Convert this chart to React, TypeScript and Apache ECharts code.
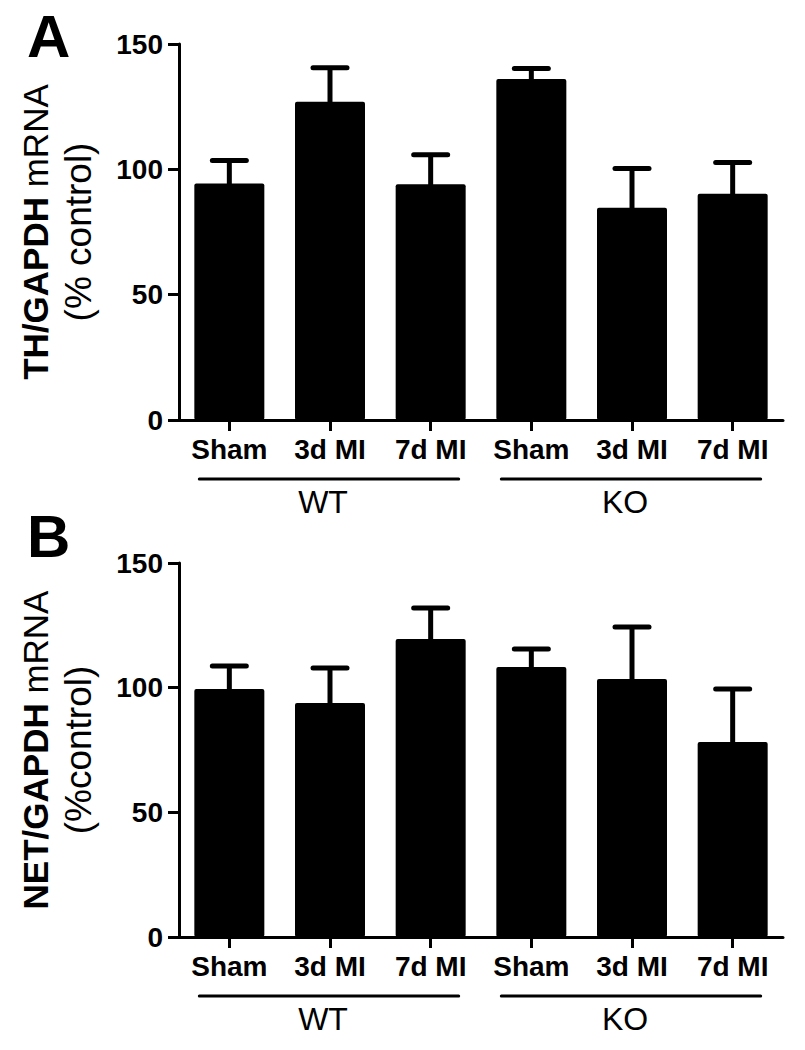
import React, { useEffect, useRef } from "react";
import * as echarts from "echarts";

const categories = ["Sham", "3d MI", "7d MI", "Sham", "3d MI", "7d MI"];
const groupNames = ["WT", "KO"];
const groupStart = [0, 3];
const groupEnd = [2, 5];
const yTicks = [0, 50, 100, 150];

const thMean = [94.3, 127, 94, 136, 84.7, 90.3];
const thErr = [9.2, 13.5, 11.8, 4.2, 15.6, 12.4];
const netMean = [99.5, 93.9, 119.5, 108.3, 103.5, 78.2];
const netErr = [9.2, 14, 12.5, 7.2, 20.8, 21.3];

const panelLetters = ["A", "B"];
const titleBold = ["TH/GAPDH", "NET/GAPDH"];
const titleSub = ["(% control)", "(%control)"];

const ARIAL = "'Liberation Sans', Arial, sans-serif";

function buildPanel(idx: number, means: number[], errs: number[]) {
  const xAxis = {
    type: "category",
    gridIndex: idx,
    data: categories,
    boundaryGap: true,
    axisLine: { show: true, lineStyle: { color: "#000", width: 3 } },
    axisTick: { show: true, alignWithLabel: true, length: 11, lineStyle: { color: "#000", width: 3 } },
    axisLabel: {
      color: "#000",
      fontSize: 28,
      fontWeight: "bold",
      fontFamily: ARIAL,
      margin: 15,
      interval: 0,
    },
  };
  const yAxis = {
    type: "value",
    gridIndex: idx,
    min: yTicks[0],
    max: yTicks[yTicks.length - 1],
    interval: yTicks[1] - yTicks[0],
    axisLine: { show: true, lineStyle: { color: "#000", width: 3 } },
    axisTick: { show: true, length: 11, lineStyle: { color: "#000", width: 3 } },
    splitLine: { show: false },
    axisLabel: { color: "#000", fontSize: 28, fontWeight: "bold", fontFamily: ARIAL, margin: 16 },
    name: `{b|${titleBold[idx]}}{r| mRNA}\n{s|${titleSub[idx]}}`,
    nameLocation: "middle",
    nameRotate: 90,
    nameGap: 79,
    nameTextStyle: {
      color: "#000",
      align: "center",
      rich: {
        b: { fontSize: 35, fontWeight: "bold", fontFamily: ARIAL, color: "#000", lineHeight: 42 },
        r: { fontSize: 35, fontFamily: ARIAL, color: "#000", lineHeight: 42 },
        s: { fontSize: 37, fontFamily: ARIAL, color: "#000", lineHeight: 44 },
      },
    },
  };
  const bar = {
    type: "bar",
    xAxisIndex: idx,
    yAxisIndex: idx,
    data: means,
    barWidth: 70,
    itemStyle: { color: "#000", borderRadius: 2 },
    silent: true,
  };
  const errSeries = {
    type: "custom",
    xAxisIndex: idx,
    yAxisIndex: idx,
    clip: false,
    data: means.map((m, i) => [i, m, errs[i]]),
    encode: { x: 0, y: 1 },
    renderItem: (params: any, api: any) => {
      const x = api.value(0);
      const m = api.value(1);
      const e = api.value(2);
      const p0 = api.coord([x, m]);
      const p1 = api.coord([x, m + e]);
      return {
        type: "group",
        children: [
          {
            type: "line",
            shape: { x1: p0[0], y1: p0[1] + 2, x2: p1[0], y2: p1[1] },
            style: { stroke: "#000", lineWidth: 5 },
          },
          {
            type: "line",
            shape: { x1: p1[0] - 17, y1: p1[1], x2: p1[0] + 17, y2: p1[1] },
            style: { stroke: "#000", lineWidth: 5, lineCap: "round" },
          },
        ],
      };
    },
  };
  const groupSeries = {
    type: "custom",
    xAxisIndex: idx,
    yAxisIndex: idx,
    clip: false,
    data: groupNames.map((g, i) => [groupStart[i], 0, groupEnd[i]]),
    encode: { x: 0, y: 1 },
    renderItem: (params: any, api: any) => {
      const c0 = api.coord([api.value(0), 0]);
      const c1 = api.coord([api.value(2), 0]);
      const y = c0[1] + 59;
      const name = groupNames[params.dataIndex];
      const x1 = c0[0] - 30;
      const x2 = c1[0] + 28;
      return {
        type: "group",
        children: [
          {
            type: "line",
            shape: { x1, y1: y, x2, y2: y },
            style: { stroke: "#000", lineWidth: 3, lineCap: "round" },
          },
          {
            type: "text",
            style: {
              text: name,
              x: (x1 + x2) / 2 - 6,
              y: y + 23,
              fill: "#000",
              fontSize: 32,
              fontFamily: ARIAL,
              align: "center",
              verticalAlign: "middle",
              textAlign: "center",
              textVerticalAlign: "middle",
            },
          },
        ],
      };
    },
  };
  return { xAxis, yAxis, series: [bar, errSeries, groupSeries] };
}

export default function App() {
  const ref = useRef<HTMLDivElement>(null);
  useEffect(() => {
    if (!ref.current) return;
    const chart = echarts.init(ref.current, null, { renderer: "svg" });
    const a = buildPanel(0, thMean, thErr);
    const b = buildPanel(1, netMean, netErr);
    chart.setOption({
      animation: false,
      backgroundColor: "#fff",
      grid: [
        { left: 179, right: 22, top: 44, height: 376 },
        { left: 179, right: 22, top: 563, height: 374 },
      ],
      xAxis: [a.xAxis, b.xAxis],
      yAxis: [a.yAxis, b.yAxis],
      series: [...a.series, ...b.series],
      graphic: [
        {
          type: "text",
          left: 27,
          top: 6,
          style: { text: panelLetters[0], fontSize: 60, fontWeight: "bold", fontFamily: ARIAL, fill: "#000" },
        },
        {
          type: "text",
          left: 27,
          top: 506,
          style: { text: panelLetters[1], fontSize: 60, fontWeight: "bold", fontFamily: ARIAL, fill: "#000" },
        },
      ],
    });
    return () => chart.dispose();
  }, []);
  return (
    <div
      ref={ref}
      style={{ position: "absolute", left: 0, top: 0, width: 805, height: 1050, background: "#fff" }}
    />
  );
}
